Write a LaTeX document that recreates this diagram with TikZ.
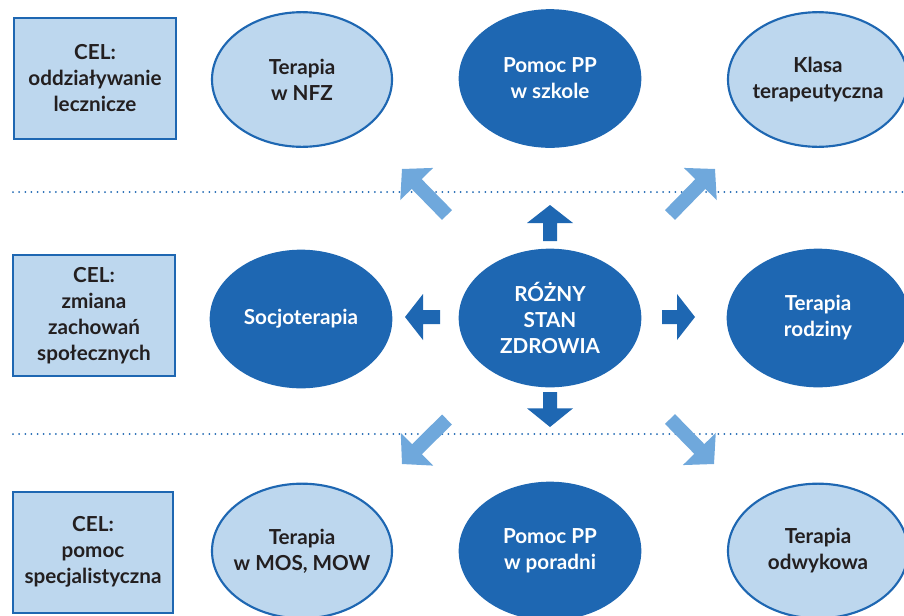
\documentclass[tikz,border=0pt]{standalone}
\usepackage{fontspec}
\setmainfont{Lato}
\usetikzlibrary{shapes.geometric,calc}
\definecolor{dblue}{HTML}{1E67B2}
\definecolor{lfill}{HTML}{BDD7EE}
\definecolor{darrow}{HTML}{6FA8DC}
\definecolor{ink}{HTML}{231F20}
% block arrow: #1 colour, #2 tail, #3 tip, #4 head length
\newcommand\blockarr[4]{%
  \coordinate (ah) at ($#3!#4!#2$);
  \fill[#1] ($#2!5.25pt!90:#3$) -- ($(ah)!5.25pt!90:#3$) -- ($(ah)!17.25pt!90:#3$)
    -- #3 -- ($(ah)!17.25pt!-90:#3$) -- ($(ah)!5.25pt!-90:#3$) -- ($#2!5.25pt!-90:#3$) -- cycle;
}
\begin{document}
\begin{tikzpicture}[x=0.75pt,y=-0.75pt,
  goalbox/.style={draw=dblue, line width=1.5pt, fill=lfill, minimum width=121.5pt, minimum height=90.75pt, inner sep=0pt},
  lightell/.style={ellipse, draw=dblue, line width=1.6pt, fill=lfill, minimum width=135pt, minimum height=101pt, inner sep=0pt},
  darkell/.style={ellipse, fill=dblue, minimum width=137pt, minimum height=104pt, inner sep=0pt},
  lbl/.style={align=center, font=\bfseries\fontsize{15.5}{19.5}\selectfont, text=ink, inner sep=0pt},
  wlbl/.style={lbl, text=white},
  dotline/.style={dblue, line width=1.5pt, line cap=round, dash pattern=on 0pt off 4.6pt},
]
\useasboundingbox (0,0) rectangle (904,615);
\clip (0,0) rectangle (904,615);

% dotted separators
\coordinate (d1a) at (13,192); \coordinate (d1b) at (904,192);
\coordinate (d2a) at (13,434); \coordinate (d2b) at (904,434);
\draw[dotline] (d1a) -- (d1b);
\draw[dotline] (d2a) -- (d2b);

% goal boxes
\node[goalbox] (g1) at (95,78.5) {};
\node[lbl] (g1t) at (g1.center) {CEL:\\oddziaływanie\\lecznicze};
\node[goalbox] (g2) at (94,315.5) {};
\node[lbl] (g2t) at (g2.center) {CEL:\\zmiana\\zachowań\\społecznych};
\node[goalbox, minimum width=120pt] (g3) at (93,552) {};
\node[lbl] (g3t) at (g3.center) {CEL:\\pomoc\\specjalistyczna};

% ellipses, top row
\node[lightell] (nfz) at (302,79.5) {};
\node[lbl] (nfzt) at (nfz.center) {Terapia\\w NFZ};
\node[darkell] (szk) at (550,78.5) {};
\node[wlbl] (szkt) at (szk.center) {Pomoc PP\\w szkole};
\node[lightell] (kl) at (818,79.5) {};
\node[lbl] (klt) at (kl.center) {Klasa\\terapeutyczna};

% middle row
\node[darkell] (soc) at (301,319) {};
\node[wlbl] (soct) at (soc.center) {Socjoterapia};
\node[darkell] (c) at (550,318) {};
\node[wlbl] (ct) at (c.center) {RÓŻNY\\STAN\\ZDROWIA};
\node[darkell] (rodz) at (818,318) {};
\node[wlbl] (rodzt) at (rodz.center) {Terapia\\rodziny};

% bottom row
\node[lightell] (mos) at (302,551) {};
\node[lbl] (most) at (mos.center) {Terapia\\w MOS, MOW};
\node[darkell] (por) at (550,551) {};
\node[wlbl] (port) at (por.center) {Pomoc PP\\w poradni};
\node[lightell] (odw) at (818,551) {};
\node[lbl] (odwt) at (odw.center) {Terapia\\odwykowa};

% straight block arrows
\blockarr{dblue}{($(c)+(0,-77)$)}{($(c)+(0,-113)$)}{13.5pt}
\blockarr{dblue}{($(c)+(0,74)$)}{($(c)+(0,109)$)}{14pt}
\blockarr{dblue}{($(c)+(-110,-1)$)}{($(c)+(-145,-1)$)}{13.5pt}
\blockarr{dblue}{($(c)+(112,-1)$)}{($(c)+(145,-1)$)}{13.5pt}
% diagonal block arrows
\blockarr{darrow}{($(c)+(-103,-103)$)}{($(c)+(-148,-149)$)}{15.75pt}
\blockarr{darrow}{($(c)+(120,-103)$)}{($(c)+(165,-149)$)}{15.75pt}
\blockarr{darrow}{($(c)+(-103,101.5)$)}{($(c)+(-148,146)$)}{15.75pt}
\blockarr{darrow}{($(c)+(120,101)$)}{($(c)+(164,146)$)}{15.75pt}
\end{tikzpicture}
\end{document}
